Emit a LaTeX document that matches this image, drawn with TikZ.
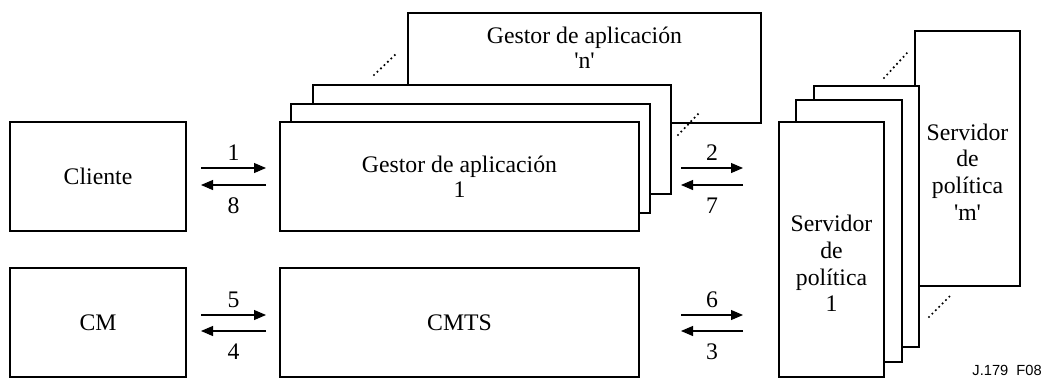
\documentclass[tikz,border=0pt]{standalone}
\usepackage{fontspec}
\setmainfont{Liberation Serif}
\newfontfamily\labfont{Liberation Sans}
\usetikzlibrary{arrows.meta,calc}
\begin{document}
\begin{tikzpicture}[x=0.75pt,y=-0.75pt,
  box/.style={draw,line width=1.6pt,fill=white,inner sep=0pt,outer sep=0pt,align=center,
    font=\fontsize{17.8pt}{18.4pt}\selectfont},
  txt/.style={inner sep=0pt,align=center,font=\fontsize{17.8pt}{18.4pt}\selectfont},
  stxt/.style={inner sep=0pt,align=center,font=\fontsize{17.8pt}{20pt}\selectfont},
  arr/.style={line width=0.8pt,-{Triangle[length=9pt,width=7.5pt]}},
  lab/.style={inner sep=0pt,font=\fontsize{17.8pt}{20pt}\selectfont},
  dots/.style={line width=1.8pt,line cap=round,dash pattern=on 0pt off 3.6pt}]
\useasboundingbox (0,0) rectangle (1045,379);

% left column
\node[box,minimum width=132pt,minimum height=81.75pt] (cli) at (98,176.5) {Cliente};
\node[box,minimum width=132pt,minimum height=81.75pt] (cm) at (98,322.5) {CM};

% application manager stack (back to front)
\node[box,minimum width=264.75pt,minimum height=82.5pt] (gan) at (584.5,68) {};
\node[txt] (gantxt) at (584.5,47.5) {Gestor de aplicación\\\textquotesingle n\textquotesingle};
\node[box,minimum width=268.5pt,minimum height=81.75pt] (ga3) at (492,139.5) {};
\node[box,minimum width=269.25pt,minimum height=81.75pt] (ga2) at (470.5,158.5) {};
\node[box,minimum width=269.25pt,minimum height=81.75pt] (ga1) at (459.5,176.5) {Gestor de aplicación\\1};
\node[box,minimum width=269.25pt,minimum height=81.75pt] (cmts) at (459.5,322.5) {CMTS};

% policy server stack (back to front)
\node[box,minimum width=78.75pt,minimum height=191.25pt] (psm) at (967.5,158.5) {};
\node[stxt] (psmtxt) at (967.5,171.9) {Servidor\\de\\política\\\textquotesingle m\textquotesingle};
\node[box,minimum width=78.75pt,minimum height=195.75pt] (ps3) at (866.5,216.5) {};
\node[box,minimum width=79.5pt,minimum height=196.5pt] (ps2) at (849,231) {};
\node[box,minimum width=78.75pt,minimum height=191.25pt] (ps1) at (831.5,249.5) {};
\node[stxt] (ps1txt) at (831.5,263.6) {Servidor\\de\\política\\1};

% dotted continuation marks
\draw[dots] (374,75) -- (397,53);
\draw[dots] (678,135) -- (700,112);
\draw[dots] (884,78) -- (907,53);
\draw[dots] (929,317) -- (952,294);

% message arrows
\draw[arr] ($(cli.east)+(15,-8.5)$) -- node[lab,above=5pt]{1} ($(ga1.west)+(-14,-8.5)$);
\draw[arr] ($(ga1.west)+(-14,8.5)$) -- node[lab,below=9pt]{8} ($(cli.east)+(15,8.5)$);
\draw[arr] ($(cm.east)+(15,-7.5)$) -- node[lab,above=5pt]{5} ($(cmts.west)+(-14,-7.5)$);
\draw[arr] ($(cmts.west)+(-14,8.5)$) -- node[lab,below=9pt]{4} ($(cm.east)+(15,8.5)$);

\draw[arr] ($(ga1.east)+(42,-8.5)$) -- node[lab,above=5pt]{2} ($(ps1.west |- ga1.east)+(-36,-8.5)$);
\draw[arr] ($(ps1.west |- ga1.east)+(-36,8.5)$) -- node[lab,below=9pt]{7} ($(ga1.east)+(42,8.5)$);
\draw[arr] ($(cmts.east)+(42,-7.5)$) -- node[lab,above=5pt]{6} ($(ps1.west |- cmts.east)+(-36,-7.5)$);
\draw[arr] ($(ps1.west |- cmts.east)+(-36,8.5)$) -- node[lab,below=9pt]{3} ($(cmts.east)+(42,8.5)$);

% figure tag
\node[inner sep=0pt,anchor=south east,font=\labfont\fontsize{11pt}{13pt}\selectfont] (tag) at (1042,376) {J.179\ \ F08};
\end{tikzpicture}
\end{document}
